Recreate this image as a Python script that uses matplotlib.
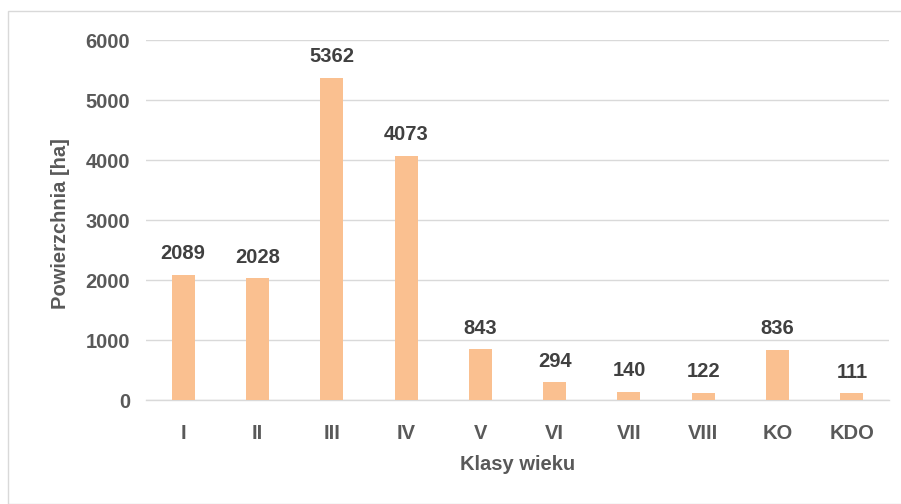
import matplotlib
matplotlib.use('Agg')
import matplotlib.pyplot as plt
from matplotlib.patches import Rectangle

# Data
categories = ['I', 'II', 'III', 'IV', 'V', 'VI', 'VII', 'VIII', 'KO', 'KDO']
values = [2089, 2028, 5362, 4073, 843, 294, 140, 122, 836, 111]
yticks = [0, 1000, 2000, 3000, 4000, 5000, 6000]

plt.rcParams['font.family'] = ['Liberation Sans', 'DejaVu Sans']

W, H = 901, 504
FS = 14.5
fig = plt.figure(figsize=(W / 100, H / 100), dpi=100, facecolor='white')

# Chart border (Excel-like frame)
fig.patches.append(Rectangle((8 / W, 0), 1.2, 1 - 11 / H, transform=fig.transFigure,
                             fill=False, edgecolor='#d9d9d9', linewidth=1.0))

ax = fig.add_axes([146 / W, 1 - 400 / H, (889 - 146) / W, 360 / H])
x = range(len(categories))
ax.bar(x, values, width=0.31, color='#fac090', zorder=3)

ax.set_ylim(0, 6000)
ax.set_xlim(-0.5, len(categories) - 0.5)
ax.set_yticks(yticks)
ax.set_xticks(list(x))
ax.set_xticklabels(categories)
ax.grid(axis='y', color='#d9d9d9', linewidth=1.0, zorder=0)

for s in ['top', 'right', 'left']:
    ax.spines[s].set_visible(False)
ax.spines['bottom'].set_color('#d9d9d9')
ax.spines['bottom'].set_linewidth(1.0)
ax.tick_params(axis='both', length=0, labelsize=FS, labelcolor='#595959')
ax.tick_params(axis='y', pad=11.5)
ax.tick_params(axis='x', pad=17)
for lbl in ax.get_xticklabels() + ax.get_yticklabels():
    lbl.set_fontweight('bold')

for xi, v in zip(x, values):
    ax.annotate(str(v), (xi, v), xytext=(0, 8.5), textcoords='offset points',
                ha='center', va='bottom', fontsize=FS, fontweight='bold',
                color='#404040')

ax.set_ylabel('Powierzchnia [ha]', fontsize=FS, fontweight='bold',
              color='#595959', va='center')
ax.yaxis.set_label_coords((60 - 146) / 743, 0.49)
ax.set_xlabel('Klasy wieku', fontsize=FS, fontweight='bold',
              color='#595959', va='center')
ax.xaxis.set_label_coords(0.5, (400 - 465) / 360)

fig.savefig('out.png', dpi=100, facecolor='white')
